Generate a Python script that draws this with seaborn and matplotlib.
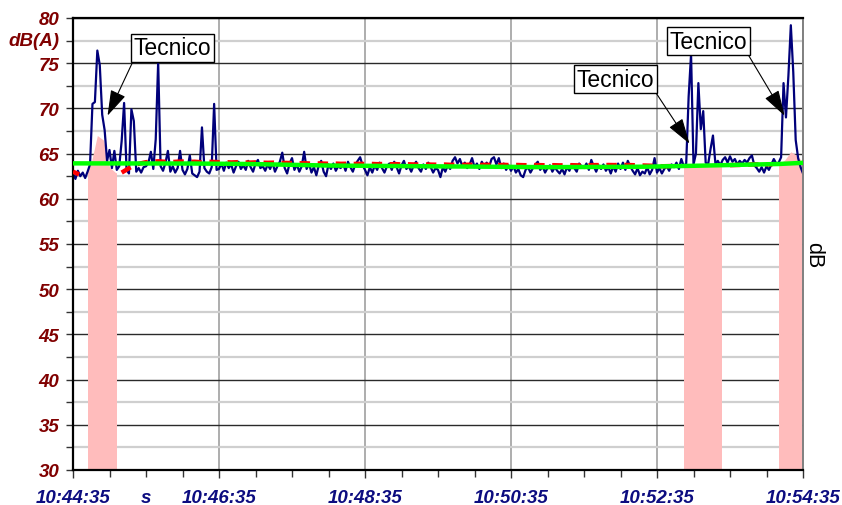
import numpy as np
import pandas as pd
import matplotlib
matplotlib.use("Agg")
import matplotlib.pyplot as plt
from matplotlib.ticker import MultipleLocator
from matplotlib.patches import Rectangle
import seaborn as sns

# ---------------- data ----------------
# blue: instantaneous level, one value every 2 s from 10:44:35 (t=0 s) to 10:54:35 (t=600 s)
blue_step_s = 2
blue_db = [
    62.8, 62.2, 63.1, 62.5, 62.9, 62.3, 63.0, 63.8, 70.5, 70.7,
    76.4, 74.8, 69.3, 67.6, 64.2, 65.4, 63.4, 65.3, 63.2, 63.6,
    66.4, 70.6, 63.2, 62.8, 69.9, 68.6, 63.0, 63.4, 62.9, 63.5,
    63.6, 64.0, 65.2, 63.3, 66.6, 75.1, 63.6, 63.1, 64.0, 65.3,
    63.0, 63.6, 62.9, 63.4, 65.3, 63.2, 62.7, 63.3, 64.8, 62.8,
    62.6, 62.4, 63.0, 67.9, 63.4, 63.0, 62.8, 63.5, 70.5, 63.2,
    63.3, 63.9, 63.1, 64.0, 63.4, 63.8, 62.9, 63.6, 64.1, 63.3,
    63.7, 63.2, 64.2, 63.5, 63.0, 63.9, 64.3, 63.4, 63.6, 63.1,
    63.8, 63.3, 64.0, 63.0, 63.6, 64.1, 65.1, 63.4, 62.8, 63.9,
    64.5, 63.2, 63.8, 63.0, 63.6, 65.2, 63.3, 63.9, 62.9, 63.5,
    62.6, 63.7, 64.2, 63.0, 62.5, 63.8, 63.3, 63.9, 63.1, 63.6,
    63.4, 63.9, 63.1, 64.1, 63.5, 63.0, 63.8, 64.2, 64.6, 63.7,
    63.2, 62.6, 63.5, 62.9, 63.7, 63.2, 64.0, 63.4, 62.9, 63.6,
    63.9, 63.2, 64.1, 63.5, 62.8, 63.7, 64.2, 63.3, 63.6, 63.0,
    63.7, 64.1, 63.4, 63.0, 63.8, 63.3, 64.0, 63.5, 62.9, 63.4,
    63.2, 62.4, 63.5, 63.0, 63.7, 63.3, 64.2, 64.6, 63.9, 64.4,
    63.6, 64.0, 63.4, 63.8, 64.5, 63.5, 63.9, 63.3, 64.1, 63.6,
    64.0, 63.5, 64.4, 64.6, 63.8, 64.5, 63.4, 63.9, 63.2, 63.7,
    63.1, 63.6, 62.9, 63.3, 62.6, 62.4, 63.2, 63.5, 62.9, 63.4,
    63.8, 64.1, 63.2, 63.6, 62.9, 63.4, 63.7, 63.0, 63.5, 63.1,
    62.8, 63.3, 62.7, 63.5, 63.1, 63.8, 63.4, 63.0, 63.9, 63.6,
    63.4, 63.9, 63.2, 64.3, 63.6, 63.0, 63.7, 63.3, 63.8, 63.1,
    63.5, 62.8, 63.6, 63.0, 63.9, 63.3, 64.0, 63.2, 64.2, 63.6,
    63.1, 62.7, 63.4, 62.6, 63.0, 62.8, 63.5, 62.7, 63.2, 64.5,
    62.9, 63.4, 62.8, 63.3, 63.6, 63.1, 63.8, 63.5, 64.0, 63.3,
    64.4, 63.6, 63.9, 71.3, 76.0, 63.8, 65.0, 72.8, 67.7, 69.7,
    64.0, 63.8, 65.5, 67.0, 63.9, 64.2, 63.7, 64.3, 64.6, 64.0,
    64.7, 64.1, 64.4, 63.8, 64.2, 63.9, 64.3, 64.0, 64.5, 64.8,
    63.7, 63.4, 63.0, 63.5, 62.9, 63.6, 63.2, 63.8, 64.4, 63.9,
    64.0, 64.6, 72.8, 69.0, 73.6, 79.2, 74.0, 66.5, 64.5, 63.5,
    62.8,
]

# red: short-term average, one value every 5 s
red_step_s = 5
red_db = [
    63.0, 62.7, 62.6, 64.0, 67.0, 66.5, 63.5, 62.9, 62.9, 63.3, 63.7, 63.9, 64.05,
    64.1, 64.15, 64.1, 64.05, 64.1, 64.12, 64.08, 64.1, 64.05, 64.1, 64.08, 64.05, 64.06, 64.02, 64.05, 64.04, 64.0, 64.03, 64.0,
    63.98, 64.0, 63.95, 63.97, 63.95, 63.92, 63.94, 63.9, 63.92, 63.9, 63.88, 63.9, 63.87, 63.88, 63.85, 63.87, 63.85, 63.86, 63.83,
    63.85, 63.82, 63.84, 63.8, 63.82, 63.8, 63.78, 63.8, 63.78, 63.77, 63.79, 63.76, 63.78, 63.75, 63.77, 63.75, 63.74, 63.76, 63.74,
    63.73, 63.75, 63.72, 63.74, 63.72, 63.71, 63.73, 63.72, 63.7, 63.72, 63.7, 63.71, 63.72, 63.7, 63.72, 63.71, 63.73, 63.72, 63.74,
    63.73, 63.75, 63.74, 63.72, 63.7, 63.68, 63.66,
    63.62, 63.6, 63.62, 63.63, 63.6, 63.6, 63.6, 63.62, 63.62, 63.65, 63.62, 63.65, 63.72,
    63.74, 63.75, 63.78, 63.82, 63.78, 63.8, 63.82, 63.85, 64.3, 65.2, 64.8, 64.0,
]

# green: overall Leq trend
green_t = [0, 100, 145, 210, 390, 470, 510, 580, 600]
green_db = [63.92, 63.9, 63.85, 63.68, 63.5, 63.55, 63.65, 63.85, 63.98]

# excluded ("Tecnico") intervals, seconds from start
excl_start = [12, 502, 580]
excl_end = [35, 533, 598]

tick_pos_s = [0, 60, 120, 240, 360, 480, 600]
tick_labels = ["10:44:35", "s", "10:46:35", "10:48:35", "10:50:35", "10:52:35", "10:54:35"]

notes = ["Tecnico", "Tecnico", "Tecnico"]
note_text_xy = [(82, 76.7), (446, 73.25), (522, 77.45)]
note_tip_xy = [(28.4, 69.2), (506.7, 66.1), (584.8, 69.2)]
note_relpos = [(0, 0), (1, 0), (1, 0)]

# ---------------- frames ----------------
df_blue = pd.DataFrame({"t": np.arange(len(blue_db)) * blue_step_s, "db": blue_db})
df_red = pd.DataFrame({"t": np.arange(len(red_db)) * red_step_s, "db": red_db})
df_green = pd.DataFrame({"t": green_t, "db": green_db})

inside = np.zeros(len(df_red), dtype=bool)
for a, b in zip(excl_start, excl_end):
    inside |= (df_red["t"] > a - 3) & (df_red["t"] < b + 3)
df_red["vis"] = np.where(inside, np.nan, df_red["db"])

# ---------------- style ----------------
sns.set_theme(style="white")
plt.rcParams["font.family"] = ["Liberation Sans", "DejaVu Sans"]
plt.rcParams["lines.scale_dashes"] = False

fig = plt.figure(figsize=(8.42, 5.06), dpi=100)
ax = fig.add_axes([73 / 842, 35 / 506, 730 / 842, 452 / 506])

PINK = "#ffbcbc"
for a, b in zip(excl_start, excl_end):
    poly = ax.fill_between(df_red["t"], 30, df_red["db"], color=PINK, lw=0, zorder=1.5)
    clip = Rectangle((a, 30), b - a, 60, transform=ax.transData)
    poly.set_clip_path(clip)

sns.lineplot(data=df_blue, x="t", y="db", ax=ax, color="#00007a", lw=1.6, zorder=2)
ax.plot(df_red["t"], df_red["vis"], color="#ff0000", lw=3.2, dashes=(7.5, 5.5), zorder=3,
        solid_capstyle="butt", dash_capstyle="butt")
sns.lineplot(data=df_green, x="t", y="db", ax=ax, color="#00ff00", lw=3.2, zorder=4)

ax.set_xlim(0, 600)
ax.set_ylim(30, 80)
ax.set_xlabel("")
ax.set_ylabel("")

ax.yaxis.set_major_locator(MultipleLocator(5))
ax.yaxis.set_minor_locator(MultipleLocator(2.5))
ax.set_xticks(tick_pos_s)
ax.set_xticklabels(tick_labels)
ax.xaxis.set_minor_locator(MultipleLocator(30))

ax.set_axisbelow(True)
ax.grid(which="major", axis="y", color="#2a2a2a", lw=1.0)
ax.grid(which="minor", axis="y", color="#cfcfcf", lw=1.6)
ax.grid(which="major", axis="x", color="#a0a0a0", lw=1.2)
ax.xaxis.get_gridlines()[1].set_visible(False)

ax.tick_params(axis="y", which="both", direction="out", length=5, width=1.0, color="#333333",
               left=True, pad=5, labelsize=13.5, labelcolor="#800000")
ax.tick_params(axis="x", which="major", direction="out", length=6, width=1.0, color="#333333",
               bottom=True, pad=8, labelsize=13.5, labelcolor="#0c0c80")
ax.tick_params(axis="x", which="minor", direction="out", length=5, width=1.0, color="#333333",
               bottom=True)
ax.xaxis.get_major_ticks()[1].tick1line.set_markersize(5)
for lab in ax.get_yticklabels() + ax.get_xticklabels():
    lab.set_fontstyle("italic")
    lab.set_fontweight("bold")

for side in ["left", "bottom", "top"]:
    ax.spines[side].set_color("black")
    ax.spines[side].set_linewidth(1.6)
ax.spines["right"].set_color("#808080")
ax.spines["right"].set_linewidth(1.4)

ax.text(-0.019, 77.5, "dB(A)", transform=ax.get_yaxis_transform(), ha="right", va="center",
        fontsize=13.5, fontstyle="italic", fontweight="bold", color="#800000")
ax.text(1.014, 53.9, "dB", transform=ax.get_yaxis_transform(), ha="center", va="center",
        fontsize=15.5, rotation=270, color="black")

for txt, txy, tip, rp in zip(notes, note_text_xy, note_tip_xy, note_relpos):
    ax.annotate(txt, xy=tip, xytext=txy, ha="center", va="center", fontsize=16.5, color="black",
                bbox=dict(boxstyle="square,pad=0.12", fc="white", ec="black", lw=1.0),
                arrowprops=dict(arrowstyle="-|>,head_length=1.6,head_width=0.5", color="black",
                                lw=0.8, mutation_scale=10, shrinkA=0, shrinkB=0, relpos=rp),
                zorder=10)

fig.savefig("out.png", dpi=100)
